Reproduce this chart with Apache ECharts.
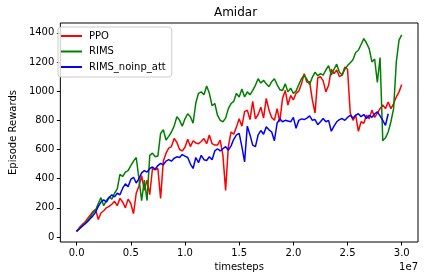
<!DOCTYPE html>
<html><head><meta charset="utf-8">
<script src="https://cdn.jsdelivr.net/npm/echarts@6/dist/echarts.min.js"></script>
<style>html,body{margin:0;padding:0;background:#fff}#c{width:424px;height:280px}</style>
</head><body><div id="c"></div>
<script>
// timesteps in millions
const timestepsM = [0,0.25,0.5,0.75,1,1.25,1.5,1.75,2,2.25,2.5,2.75,3,3.25,3.5,3.75,4,4.25,4.5,4.75,5,5.25,5.5,5.75,6,6.25,6.5,6.75,7,7.25,7.5,7.75,8,8.25,8.5,8.75,9,9.25,9.5,9.75,10,10.25,10.5,10.75,11,11.25,11.5,11.75,12,12.25,12.5,12.75,13,13.25,13.5,13.75,14,14.25,14.5,14.75,15,15.25,15.5,15.75,16,16.25,16.5,16.75,17,17.25,17.5,17.75,18,18.25,18.5,18.75,19,19.25,19.5,19.75,20,20.25,20.5,20.75,21,21.25,21.5,21.75,22,22.25,22.5,22.75,23,23.25,23.5,23.75,24,24.25,24.5,24.75,25,25.25,25.5,25.75,26,26.25,26.5,26.75,27,27.25,27.5,27.75,28,28.25,28.5,28.75,29,29.25,29.5,29.75,30];

const ppo = [35,65,85,100,125,150,175,190,120,165,
180,200,210,225,245,215,265,240,200,260,
230,160,300,350,420,320,390,290,470,460,
470,265,520,575,610,620,675,650,600,590,
615,670,620,660,645,640,655,675,640,700,
640,630,630,665,560,320,620,720,705,755,
810,760,860,870,805,930,810,840,890,815,
950,870,820,800,880,790,950,1005,905,970,
940,985,1000,1050,1120,1060,1065,940,850,1090,
1100,1070,995,1040,1150,1120,1145,1100,1110,1165,
1150,850,800,835,725,790,780,835,810,870,
820,850,880,905,880,925,880,915,960,995,
1045];

const rims = [40,58,75,95,110,135,165,185,230,270,
215,250,275,260,300,330,430,415,445,455,
490,520,545,400,250,390,250,560,575,550,
555,710,735,665,690,720,760,825,800,760,
810,845,825,780,920,985,995,975,1035,985,
900,915,835,800,790,815,880,915,930,985,
960,1015,960,995,975,1005,1040,1085,1055,1075,
1050,1030,1065,1085,1045,1010,1005,1050,995,1020,
985,1000,1045,1085,1110,1080,1045,1095,1130,1105,
1120,1110,1145,1175,1110,1150,1185,1130,1110,1150,
1175,1195,1215,1265,1280,1320,1360,1330,1290,1200,
1220,1060,1230,660,680,720,790,880,1200,1350,
1385];

const rimsNoinpAtt = [40,55,72,88,105,125,145,170,210,240,
255,240,270,290,275,300,290,335,365,345,
395,410,370,400,440,455,445,470,480,465,
490,505,495,520,530,520,540,550,545,565,
555,545,500,470,545,510,560,530,525,550,
530,590,605,590,605,620,595,625,670,700,
710,620,515,760,700,630,620,700,730,705,
755,735,720,660,780,810,790,800,795,790,
820,745,800,810,805,815,830,800,805,770,
790,812,790,800,725,760,790,805,812,800,
820,835,815,835,845,825,840,812,835,820,
845,858,830,800,766,845];

const seriesNames = ['PPO','RIMS','RIMS_noinp_att'];
const seriesColors = ['#ff0000','#008000','#0000ff'];
const xTickValues = [0,5e6,1e7,1.5e7,2e7,2.5e7,3e7];
const yTickValues = [0,200,400,600,800,1000,1200,1400];

function pairs(ys){ return ys.map((y,i)=>[timestepsM[i]*1e6, y]); }

const font = 'DejaVu Sans';
const chart = echarts.init(document.getElementById('c'), null, {renderer:'canvas'});
const allData = [ppo, rims, rimsNoinpAtt];
chart.setOption({
  animation:false,
  backgroundColor:'#fff',
  grid:{left:53, right:6, top:23, bottom:38, show:true, borderColor:'#000', borderWidth:1, backgroundColor:'transparent'},
  xAxis:{type:'value', min:-1.5e6, max:3.15e7,
    name:'timesteps', nameLocation:'middle', nameGap:20,
    nameTextStyle:{fontFamily:font, fontSize:10, color:'#000'},
    axisLine:{show:false, onZero:false},
    axisTick:{show:true, length:3.5, inside:false, lineStyle:{color:'#000'}, customValues:xTickValues},
    axisLabel:{margin:6, fontFamily:font, fontSize:10, color:'#000', customValues:xTickValues,
      formatter:v=>(v/1e7).toFixed(1)},
    splitLine:{show:false}},
  yAxis:{type:'value', min:-34, max:1467,
    name:'Episode Rewards', nameLocation:'middle', nameGap:38, nameRotate:90,
    nameTextStyle:{fontFamily:font, fontSize:10, color:'#000'},
    axisLine:{show:false, onZero:false},
    axisTick:{show:true, length:3.5, inside:false, lineStyle:{color:'#000'}, customValues:yTickValues},
    axisLabel:{margin:6, fontFamily:font, fontSize:10, color:'#000', customValues:yTickValues,
      formatter:v=>String(v)},
    splitLine:{show:false}},
  legend:{orient:'vertical', left:58, top:27, icon:'rect', itemWidth:21, itemHeight:2,
    itemGap:3.5, padding:[3,6,4,3], backgroundColor:'rgba(255,255,255,0.8)',
    borderColor:'#cccccc', borderWidth:1, borderRadius:3,
    textStyle:{fontFamily:font, fontSize:10, color:'#000', lineHeight:12, padding:[0,0,0,2]},
    data:seriesNames},
  graphic:[
    {type:'text', x:235.5, y:12.5, style:{text:'Amidar', font:'12px "DejaVu Sans"', fill:'#000', align:'center', verticalAlign:'middle', textAlign:'center', textVerticalAlign:'middle'}},
    {type:'text', x:418, y:267, style:{text:'1e7', font:'10px "DejaVu Sans"', fill:'#000', align:'right', verticalAlign:'middle', textAlign:'right', textVerticalAlign:'middle'}}
  ],
  series: seriesNames.map((n,i)=>({name:n, type:'line', data:pairs(allData[i]), showSymbol:false, symbol:'none',
    lineStyle:{width:1.5, color:seriesColors[i]}, itemStyle:{color:seriesColors[i]}}))
});
</script></body></html>
